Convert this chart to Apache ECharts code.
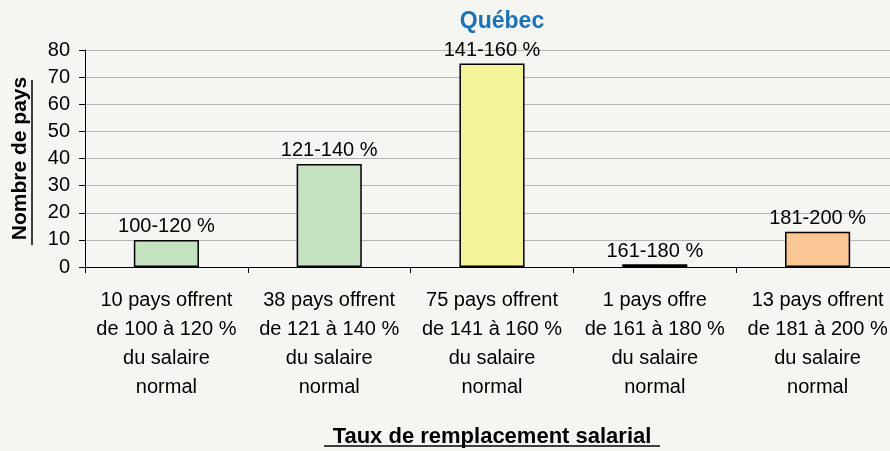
<!DOCTYPE html>
<html>
<head>
<meta charset="utf-8">
<script src="https://cdn.jsdelivr.net/npm/echarts@6/dist/echarts.min.js"></script>
<style>
  html, body { margin: 0; padding: 0; background: #f5f5f1; }
  #chart { width: 890px; height: 451px; }
</style>
</head>
<body>
<div id="chart"></div>
<script>
// données du graphique
var categories = [
  '10 pays offrent\nde 100 à 120 %\ndu salaire\nnormal',
  '38 pays offrent\nde 121 à 140 %\ndu salaire\nnormal',
  '75 pays offrent\nde 141 à 160 %\ndu salaire\nnormal',
  '1 pays offre\nde 161 à 180 %\ndu salaire\nnormal',
  '13 pays offrent\nde 181 à 200 %\ndu salaire\nnormal'
];
var values = [10, 38, 75, 1, 13];
var barLabels = ['100-120 %', '121-140 %', '141-160 %', '161-180 %', '181-200 %'];
var barColors = ['#c5e3c0', '#c5e3c0', '#f5f399', '#000000', '#fbc795'];
var yTicks = [0, 10, 20, 30, 40, 50, 60, 70, 80];

var font = 'Liberation Sans, Arial, sans-serif';
var myChart = echarts.init(document.getElementById('chart'));

var option = {
  backgroundColor: '#f5f5f1',
  animation: false,
  title: {
    text: 'Québec',
    left: 497,
    top: 5,
    textAlign: 'center',
    textStyle: { color: '#1a72ba', fontSize: 23, fontWeight: 'bold', fontFamily: font }
  },
  grid: { left: 85, width: 814, top: 50, height: 217, outerBoundsMode: 'none', containLabel: false },
  xAxis: {
    type: 'category',
    data: categories,
    axisLine: { lineStyle: { color: '#000', width: 1 } },
    axisTick: { show: true, alignWithLabel: false, length: 6, lineStyle: { color: '#000' } },
    axisLabel: {
      color: '#000', fontSize: 20, fontFamily: font, lineHeight: 29,
      interval: 0, margin: 19, align: 'center'
    },
    name: 'Taux de remplacement salarial',
    nameLocation: 'middle',
    nameGap: 159,
    nameTextStyle: { color: '#000', fontSize: 22, fontWeight: 'bold', fontFamily: font }
  },
  yAxis: {
    type: 'value',
    min: yTicks[0],
    max: yTicks[yTicks.length - 1],
    interval: 10,
    axisLine: { show: true, lineStyle: { color: '#000' } },
    axisTick: { show: true, length: 6, lineStyle: { color: '#000' } },
    splitLine: { lineStyle: { color: '#b4b4b4' } },
    axisLabel: { color: '#000', fontSize: 20, fontFamily: font, margin: 15 },
    name: 'Nombre de pays',
    nameLocation: 'middle',
    nameGap: 54,
    nameTextStyle: { color: '#000', fontSize: 21, fontWeight: 'bold', fontFamily: font }
  },
  series: [{
    type: 'bar',
    barWidth: '40%',
    data: values.map(function (v, i) {
      return { value: v, itemStyle: { color: barColors[i] } };
    }),
    itemStyle: { borderColor: '#000', borderWidth: 1.5 },
    label: {
      show: true,
      position: 'top',
      distance: 3,
      color: '#000',
      fontSize: 20,
      fontFamily: font,
      formatter: function (p) { return barLabels[p.dataIndex]; }
    }
  }],
  graphic: [
    // soulignements des titres d'axes
    { type: 'line', shape: { x1: 32, y1: 80, x2: 32, y2: 245 }, style: { stroke: '#000', lineWidth: 1.5 } },
    { type: 'line', shape: { x1: 324, y1: 446, x2: 660, y2: 446 }, style: { stroke: '#000', lineWidth: 1.5 } }
  ]
};

myChart.setOption(option);
window.addEventListener('resize', function () { myChart.resize(); });
</script>
</body>
</html>
